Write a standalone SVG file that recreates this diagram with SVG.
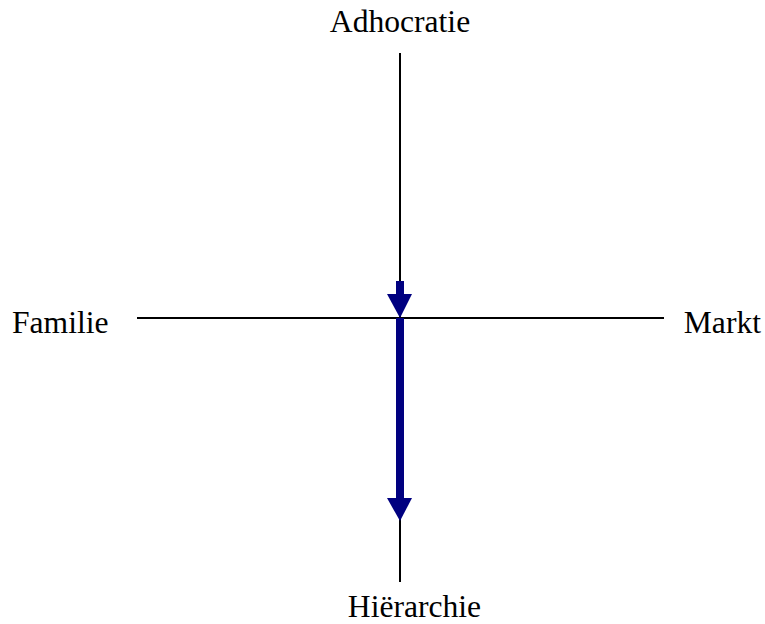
<svg xmlns="http://www.w3.org/2000/svg" width="765" height="624" viewBox="0 0 765 624">
<style>
.lbl{font-family:"Liberation Serif","Times New Roman",serif;font-size:31.6px;fill:#000}
.axis{stroke:#000;stroke-width:2;fill:none}
.shaft{stroke:#000080;stroke-width:8;fill:none}
.head{fill:#000080}
</style>
<rect width="765" height="624" fill="#fff"/>
<g id="connectors">
<line class="axis" x1="400" y1="53" x2="400" y2="582"/>
<line class="axis" x1="137" y1="318" x2="664" y2="318"/>
<line class="shaft" x1="400" y1="281" x2="400" y2="297"/>
<polygon class="head" points="387,294 412,294 400,318"/>
<line class="shaft" x1="400" y1="318" x2="400" y2="500"/>
<polygon class="head" points="387,498 412,498 400,521"/>
</g>
<g id="adhocratie"><text class="lbl" x="400" y="32" text-anchor="middle">Adhocratie</text></g>
<g id="hierarchie"><text class="lbl" x="414.5" y="617" text-anchor="middle">Hiërarchie</text></g>
<g id="familie"><text class="lbl" x="12" y="333">Familie</text></g>
<g id="markt"><text class="lbl" x="761" y="333" text-anchor="end">Markt</text></g>
</svg>
